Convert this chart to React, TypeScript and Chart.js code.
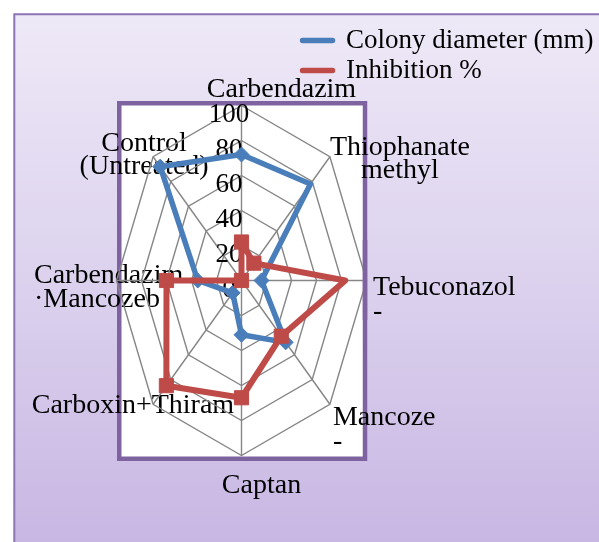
import React, { useEffect, useRef } from 'react';
import { Chart, registerables, RadialLinearScale } from 'chart.js';

Chart.register(...registerables);

// ---- data ----
const categories: (string | string[])[] = [
  'Carbendazim',
  ['Thiophanate', 'methyl'],
  ['Tebuconazol', '-'],
  ['Mancoze', '-'],
  'Captan',
  'Carboxin+Thiram',
  ['Carbendazim', '·Mancozeb'],
  ['Control', '(Untreated)'],
];
const colonyDiameter = [72, 78, 16, 50, 31, 10, 35, 92];
const inhibition = [22, 14, 83, 45, 67, 85, 60, 0];
const seriesNames = ['Colony diameter (mm)', 'Inhibition %'];
const axisMin = 0;
const axisMax = 100;
const axisStep = 20;

// ---- styles / geometry ----
const FONT = "'Liberation Serif', 'Times New Roman', serif";
const BLUE = '#4A7EBB';
const RED = '#BE4B48';
const GRID = '#868686';
const Y_STRETCH = 1.4;
const GEO = { cx: 241.5, cy: 280.5, r: 125 };
const LABEL_OFFSETS: [number, number][] = [
  [40, -27.5],
  [70, -21.5],
  [6.5, -5],
  [3, 1.3],
  [20, 18],
  [81, -10.5],
  [-82.5, -17],
  [-9, -25.5],
];
const LABEL_ALIGN = ['center', 'center', 'left', 'left', 'center', 'right', 'left', 'center'];
const TICK_DX = -12.5;
const TICK_DY = 16;
const FRAME = { x: 119.25, y: 103.25, w: 245.75, h: 355.5, lw: 4.5, color: '#7F63A1' };

class EllipseRadialScale extends RadialLinearScale {
  static id = 'ellipseRadial';

  setCenterPoint() {
    (this as any).xCenter = GEO.cx;
    (this as any).yCenter = GEO.cy;
    (this as any).drawingArea = GEO.r;
  }

  getPointPosition(index: number, distance: number, additionalAngle = 0) {
    const p = super.getPointPosition(index, distance, additionalAngle);
    const yc = (this as any).yCenter;
    return { x: p.x, y: yc + (p.y - yc) * Y_STRETCH, angle: p.angle };
  }

  fit() {
    super.fit();
    const items = (this as any)._pointLabelItems || [];
    items.forEach((item: any, i: number) => {
      const p = this.getPointPosition(i, (this as any).drawingArea);
      const [dx, dy] = LABEL_OFFSETS[i];
      item.x = p.x + dx;
      item.y = p.y + dy;
      item.textAlign = LABEL_ALIGN[i];
    });
  }

  drawLabels() {
    const ctx = (this as any).ctx as CanvasRenderingContext2D;
    ctx.save();
    ctx.font = `27px ${FONT}`;
    ctx.fillStyle = '#000';
    ctx.textAlign = 'center';
    ctx.textBaseline = 'alphabetic';
    (this as any).ticks.forEach((t: any) => {
      const d = this.getDistanceFromCenterForValue(t.value) * Y_STRETCH;
      ctx.fillText(String(t.label), (this as any).xCenter + TICK_DX, (this as any).yCenter - d + TICK_DY);
    });
    ctx.restore();
  }
}
Chart.register(EllipseRadialScale as any);

const framePlugin = {
  id: 'frames',
  beforeDraw(chart: any) {
    const ctx = chart.ctx as CanvasRenderingContext2D;
    const W = chart.width;
    const H = chart.height;
    ctx.save();
    ctx.fillStyle = '#ffffff';
    ctx.fillRect(0, 0, W, H);
    const g = ctx.createLinearGradient(0, 14, 0, H);
    g.addColorStop(0, '#EEE9F7');
    g.addColorStop(0.5, '#DCD2EE');
    g.addColorStop(1, '#C8B7E3');
    ctx.fillStyle = g;
    ctx.fillRect(14, 14, W, H);
    ctx.strokeStyle = '#8C74B5';
    ctx.lineWidth = 2;
    ctx.beginPath();
    ctx.moveTo(14.3, H);
    ctx.lineTo(14.3, 14.3);
    ctx.lineTo(W, 14.3);
    ctx.stroke();
    ctx.fillStyle = '#ffffff';
    ctx.fillRect(FRAME.x, FRAME.y, FRAME.w, FRAME.h);
    ctx.strokeStyle = FRAME.color;
    ctx.lineWidth = FRAME.lw;
    ctx.strokeRect(FRAME.x, FRAME.y, FRAME.w, FRAME.h);
    ctx.restore();
  },
  beforeDatasetsDraw(chart: any) {
    const ctx = chart.ctx as CanvasRenderingContext2D;
    ctx.save();
    ctx.fillStyle = FRAME.color;
    ctx.fillRect(FRAME.x + FRAME.w - FRAME.lw / 2, 240, FRAME.lw, 80);
    ctx.restore();
  },
};

export default function App() {
  const ref = useRef<HTMLCanvasElement>(null);
  useEffect(() => {
    if (!ref.current) return;
    const chart = new Chart(ref.current, {
      type: 'radar',
      data: {
        labels: categories as any,
        datasets: [
          {
            label: seriesNames[0],
            data: colonyDiameter,
            borderColor: BLUE,
            backgroundColor: BLUE,
            borderWidth: 5.5,
            borderJoinStyle: 'round',
            borderCapStyle: 'round',
            pointStyle: 'rectRot',
            pointRadius: 7.5,
            pointBackgroundColor: BLUE,
            pointBorderColor: BLUE,
            pointBorderWidth: 1,
            fill: false,
            order: 1,
            clip: false as any,
          },
          {
            label: seriesNames[1],
            data: inhibition,
            borderColor: RED,
            backgroundColor: RED,
            borderWidth: 6,
            borderJoinStyle: 'round',
            borderCapStyle: 'round',
            pointStyle: 'rect',
            pointRadius: 10,
            pointBackgroundColor: RED,
            pointBorderColor: RED,
            pointBorderWidth: 1,
            fill: false,
            order: 0,
            clip: false as any,
          },
        ],
      },
      options: {
        responsive: false,
        animation: false,
        devicePixelRatio: 1,
        events: [],
        layout: { padding: { top: 24, left: 0, right: 0, bottom: 0 } },
        elements: { line: { tension: 0 } },
        scales: {
          r: {
            type: 'ellipseRadial' as any,
            min: axisMin,
            max: axisMax,
            ticks: { stepSize: axisStep, showLabelBackdrop: false },
            grid: { color: GRID, lineWidth: 1.4 },
            angleLines: { color: GRID, lineWidth: 1.4 },
            pointLabels: {
              color: '#000',
              font: { family: FONT, size: 28, lineHeight: 0.85 },
            },
          } as any,
        },
        plugins: {
          legend: {
            position: 'right',
            align: 'start',
            labels: {
              usePointStyle: true,
              pointStyle: 'line',
              pointStyleWidth: 30,
              padding: 3,
              color: '#000',
              font: { family: FONT, size: 27 },
              sort: (a: any, b: any) => a.datasetIndex - b.datasetIndex,
              generateLabels: (c: any) =>
                (Chart.defaults.plugins.legend.labels.generateLabels as any)(c).map((it: any) => ({
                  ...it,
                  lineWidth: 5.5,
                  lineCap: 'round',
                })),
            },
          },
          tooltip: { enabled: false },
        },
      } as any,
      plugins: [framePlugin],
    });
    return () => chart.destroy();
  }, []);
  return (
    <div style={{ position: 'absolute', left: 0, top: 0, width: 599, height: 542 }}>
      <canvas ref={ref} width={599} height={542} style={{ width: 599, height: 542, display: 'block' }} />
    </div>
  );
}
